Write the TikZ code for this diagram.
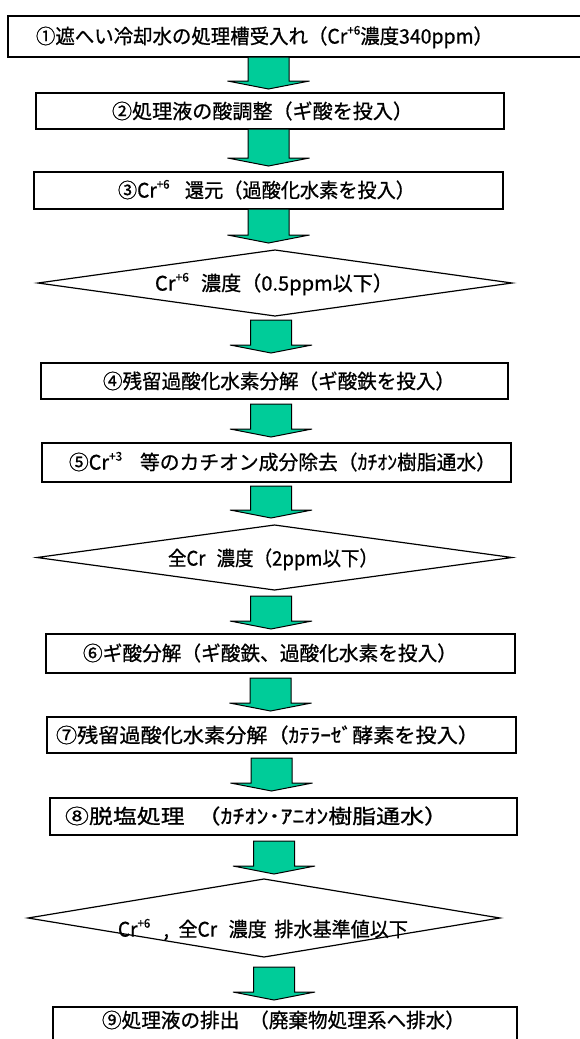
\documentclass[tikz,border=0pt]{standalone}
\usepackage{fontspec}
\setmainfont[FakeBold=0.8,AutoFakeBold=0.8]{Noto Sans CJK JP}
\usepackage{graphicx}
\usetikzlibrary{calc,shapes.geometric}
\definecolor{agreen}{HTML}{00CC99}
\newcommand{\fitw}[2]{\resizebox{#1pt}{\height}{#2}}
\newcommand{\supr}[1]{\raisebox{0.45em}{\fontsize{12}{12}\selectfont #1}}
\begin{document}
\begin{tikzpicture}[x=1pt,y=-1pt,
  box/.style={draw=black, line width=1.2pt, fill=white, inner sep=0pt, outer sep=0pt},
  dia/.style={diamond, draw=black, line width=1.2pt, fill=white, inner sep=0pt, outer sep=0pt},
  txt/.style={inner sep=0pt, outer sep=0pt, font=\fontsize{20}{20}\selectfont\bfseries, text height=17.6pt, text depth=2.4pt},
  blk/.style 2 args={draw=black, line width=1pt, fill=agreen, line join=miter,
    to path={let \p1=(\tikztostart), \p2=(\tikztotarget) in
      (\x1-20.5pt,\y1-#1pt) -- (\x1+20.5pt,\y1-#1pt) -- (\x1+20.5pt,\y2+#2pt+8pt)
      -- (\x1+41pt,\y2+#2pt+8pt) -- (\x1,\y2+#2pt) -- (\x1-41pt,\y2+#2pt+8pt)
      -- (\x1-20.5pt,\y2+#2pt+8pt) -- cycle}}]
\useasboundingbox (0,0) rectangle (580,1039);
\clip (0,0) rectangle (580,1039);
\fill[white] (0,0) rectangle (580,1039);
% axes for arrows
\coordinate (ax1) at (268.5,0);
\coordinate (ax2) at (271,0);
\coordinate (ax3) at (270.5,0);
\coordinate (ax4) at (271.5,0);
\coordinate (ax5) at (274,0);
% boxes
\node[box, minimum width=582pt, minimum height=41pt] (b1) at (299,36.5) {};
\node[box, minimum width=468pt, minimum height=36pt] (b2) at (270,111) {};
\node[box, minimum width=469pt, minimum height=37pt] (b3) at (268.5,190.5) {};
\node[dia, minimum width=474pt, minimum height=66pt] (d1) at (275,283) {};
\node[box, minimum width=467pt, minimum height=36pt] (b4) at (274.5,381) {};
\node[box, minimum width=469pt, minimum height=39pt] (b5) at (276.5,462.5) {};
\node[dia, minimum width=475pt, minimum height=65pt] (d2) at (274.5,557.5) {};
\node[box, minimum width=469pt, minimum height=39pt] (b6) at (280.5,653.5) {};
\node[box, minimum width=469pt, minimum height=36pt] (b7) at (281.5,735) {};
\node[box, minimum width=467pt, minimum height=37pt] (b8) at (283.5,816.5) {};
\node[dia, minimum width=472pt, minimum height=78pt] (d3) at (264,918) {};
\node[box, minimum width=464pt, minimum height=43pt] (b9) at (285,1028.5) {};
% texts
\node[txt] (t1) at (264.5,36) {\fitw{457}{①遮へい冷却水の処理槽受入れ（Cr\supr{+6}濃度340ppm）}};
\node[txt] (t2) at (262.5,111) {\fitw{301}{②処理液の酸調整（ギ酸を投入）}};
\node[txt] (t3) at (266.5,190) {\fitw{297}{③Cr\supr{+6}\hspace{0.8em}還元（過酸化水素を投入）}};
\node[txt] (td1) at (274,283) {\fitw{238}{Cr\supr{+6}\hspace{0.6em}濃度（0.5ppm以下）}};
\node[txt] (t4) at (279,381) {\fitw{352}{④残留過酸化水素分解（ギ酸鉄を投入）}};
\node[txt] (t5) at (282.5,462) {\fitw{427}{⑤Cr\supr{+3}\hspace{0.9em}等のカチオン成分除去（ｶﾁｵﾝ樹脂通水）}};
\node[txt] (td2) at (273,558) {\fitw{210}{全Cr\hspace{0.6em}濃度（2ppm以下）}};
\node[txt] (t6) at (270,653) {\fitw{374}{⑥ギ酸分解（ギ酸鉄、過酸化水素を投入）}};
\node[txt] (t7) at (267.5,735) {\fitw{423}{⑦残留過酸化水素分解（ｶﾃﾗｰｾﾞ酵素を投入）}};
\node[txt] (t8) at (256.5,816) {\fitw{383}{⑧脱塩処理\hspace{0.5em}（ｶﾁｵﾝ･ｱﾆｵﾝ樹脂通水）}};
\node[txt] (td3) at (263,929) {\fitw{290}{Cr\supr{+6}\hspace{0.7em},\hspace{0.5em}全Cr\hspace{0.6em}濃度\hspace{0.4em}排水基準値以下}};
\node[txt] (t9) at (283.5,1020) {\fitw{363}{⑨処理液の排出\hspace{0.5em}（廃棄物処理系へ排水）}};
% block arrows
\draw[blk={0}{4}] (b1.south -| ax1) to (b2.north -| ax1);
\draw[blk={0}{6}] (b2.south -| ax1) to (b3.north -| ax1);
\draw[blk={0}{7}] (b3.south -| ax1) to (d1.north -| ax1);
\draw[blk={4}{10}] (d1.south -| ax2) to (b4.north -| ax2);
\draw[blk={5}{6}] (b4.south -| ax2) to (b5.north -| ax2);
\draw[blk={4}{7}] (b5.south -| ax2) to (d2.north -| ax2);
\draw[blk={6}{5}] (d2.south -| ax2) to (b6.north -| ax2);
\draw[blk={5}{6}] (b6.south -| ax3) to (b7.north -| ax3);
\draw[blk={5}{7}] (b7.south -| ax4) to (b8.north -| ax4);
\draw[blk={6}{5}] (b8.south -| ax5) to (d3.north -| ax5);
\draw[blk={10}{7}] (d3.south -| ax5) to (b9.north -| ax5);
\end{tikzpicture}
\end{document}
